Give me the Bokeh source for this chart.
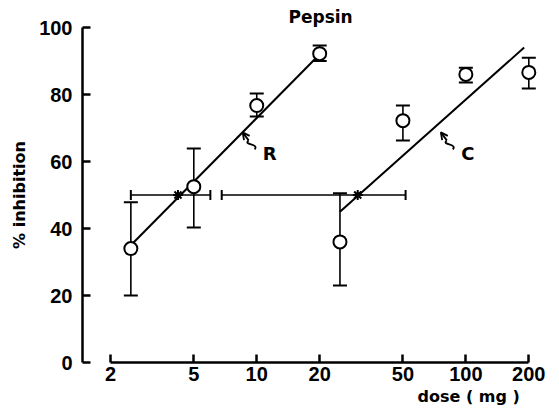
import math
from bokeh.plotting import figure
from bokeh.models import (Range1d, FixedTicker, Whisker, TeeHead, ColumnDataSource,
                          Label, Arrow, OpenHead, Title)
from bokeh.embed import file_html
from bokeh.resources import INLINE

# ---------------- data ----------------
title_text = "Pepsin"
x_label = "dose ( mg )"
y_label = "% inhibition"
x_ticks = [2, 5, 10, 20, 50, 100, 200]
x_tick_labels = ["2", "5", "10", "20", "50", "100", "200"]
y_ticks = [0, 20, 40, 60, 80, 100]

r_dose = [2.5, 5, 10, 20]
r_inhib = [34.0, 52.5, 76.7, 92.2]
r_low = [20.0, 40.3, 73.4, 90.0]
r_high = [47.8, 63.9, 80.3, 94.6]

c_dose = [25, 50, 100, 200]
c_inhib = [36.0, 72.2, 86.0, 86.6]
c_low = [23.0, 66.3, 83.6, 81.8]
c_high = [50.5, 76.7, 88.0, 91.0]

r_fit_dose = [2.5, 20]
r_fit_inhib = [35.0, 92.0]
c_fit_dose = [25, 190]
c_fit_inhib = [45.0, 94.0]

ed50_level = [50.0, 50.0]
ed50_dose = [4.2, 30.4]
ed50_low = [2.5, 6.8]
ed50_high = [6.0, 51.5]

series_names = ["R", "C"]
pointer_tips = [(8.56, 68.7), (75.9, 68.7)]

# ---------------- figure ----------------
XMIN, XMAX, YMIN, YMAX = 1.468, 230, 0, 100
W, H = 555, 412
ML, MR, MT, MB = 82, 14, 27, 50
FW, FH = W - ML - MR, H - MT - MB

p = figure(width=W, height=H, x_axis_type="log",
           x_range=Range1d(XMIN, XMAX), y_range=Range1d(YMIN, YMAX),
           output_backend="svg", toolbar_location=None,
           min_border_left=ML, min_border_right=MR,
           min_border_top=MT, min_border_bottom=MB)
p.outline_line_color = None
p.xgrid.visible = False
p.ygrid.visible = False
p.background_fill_color = "white"

tick_font = "Liberation Sans"
word_font = "DejaVu Sans"

for ax in (p.xaxis[0], p.yaxis[0]):
    ax.axis_line_width = 2.5
    ax.axis_line_color = "black"
    ax.major_tick_line_width = 2.5
    ax.major_tick_line_color = "black"
    ax.major_tick_in = 8
    ax.major_tick_out = 0
    ax.minor_tick_line_color = None
    ax.major_label_text_font = tick_font
    ax.major_label_text_font_size = "20px"
    ax.major_label_text_font_style = "bold"
    ax.major_label_text_color = "black"

xa = p.xaxis[0]
xa.ticker = FixedTicker(ticks=x_ticks, minor_ticks=[])
xa.major_label_overrides = {t: l for t, l in zip(x_ticks, x_tick_labels)}
xa.bounds = (x_ticks[0], x_ticks[-1])
xa.major_label_standoff = 4

ya = p.yaxis[0]
ya.ticker = FixedTicker(ticks=y_ticks, minor_ticks=[])
ya.bounds = (y_ticks[0], y_ticks[-1])
ya.major_label_standoff = 10
ya.axis_label = y_label
ya.axis_label_text_font = word_font
ya.axis_label_text_font_size = "16px"
ya.axis_label_text_font_style = "bold"
ya.axis_label_text_color = "black"
ya.axis_label_standoff = 7

# title above the frame
p.title.text = title_text
p.title.align = "left"
p.title.offset = 206
p.title.standoff = 2
p.title.text_font = word_font
p.title.text_font_size = "17px"
p.title.text_font_style = "bold"
p.title.text_color = "black"

# x-axis label placed as a title below the axis
p.add_layout(Title(text=x_label, align="left", offset=335, standoff=3,
                   text_font=word_font, text_font_size="16px", text_font_style="bold",
                   text_color="black"), "below")

# regression lines
p.line(r_fit_dose, r_fit_inhib, line_width=2, color="black")
p.line(c_fit_dose, c_fit_inhib, line_width=2, color="black")

# vertical error bars
for d, lo, hi in ((r_dose, r_low, r_high), (c_dose, c_low, c_high)):
    src = ColumnDataSource(dict(x=d, lo=lo, hi=hi))
    p.add_layout(Whisker(source=src, base="x", lower="lo", upper="hi", dimension="height",
                         line_width=1.6, line_color="black",
                         lower_head=TeeHead(size=14, line_width=2, line_color="black"),
                         upper_head=TeeHead(size=14, line_width=2, line_color="black")))

# horizontal ED50 confidence bars
hsrc = ColumnDataSource(dict(y=ed50_level, lo=ed50_low, hi=ed50_high))
p.add_layout(Whisker(source=hsrc, base="y", lower="lo", upper="hi", dimension="width",
                     line_width=1.6, line_color="black",
                     lower_head=TeeHead(size=10, line_width=2, line_color="black"),
                     upper_head=TeeHead(size=10, line_width=2, line_color="black")))
p.scatter(ed50_dose, ed50_level, marker="asterisk", size=10, line_width=2, color="black")

# data points (open circles)
p.scatter(r_dose, r_inhib, marker="circle", size=13, line_width=2,
          line_color="black", fill_color="white")
p.scatter(c_dose, c_inhib, marker="circle", size=13, line_width=2,
          line_color="black", fill_color="white")

# pixel-offset helper for the pointer annotations
px_per_dec = FW / math.log10(XMAX / XMIN)
px_per_unit = FH / (YMAX - YMIN)
def shift(d, v, dx, dy):
    return d * 10 ** (dx / px_per_dec), v + dy / px_per_unit

for name, (tx, ty) in zip(series_names, pointer_tips):
    s0 = shift(tx, ty, 6, -8)
    s1 = shift(tx, ty, 12, -17)
    c0 = shift(tx, ty, 0, -13)
    c1 = shift(tx, ty, 17, -11)
    p.add_layout(Arrow(end=OpenHead(size=7, line_width=1.8, line_color="black"),
                       x_start=s0[0], y_start=s0[1], x_end=tx, y_end=ty,
                       line_width=1.8, line_color="black"))
    p.bezier(x0=[s0[0]], y0=[s0[1]], x1=[s1[0]], y1=[s1[1]],
             cx0=[c0[0]], cy0=[c0[1]], cx1=[c1[0]], cy1=[c1[1]],
             line_width=1.8, line_color="black")
    lx, ly = shift(tx, ty, 27, -21)
    p.add_layout(Label(x=lx, y=ly, text=name, text_align="center", text_baseline="middle",
                       text_font=word_font, text_font_size="18px", text_font_style="bold",
                       text_color="black"))

open("out.html", "w").write(file_html(p, INLINE))
